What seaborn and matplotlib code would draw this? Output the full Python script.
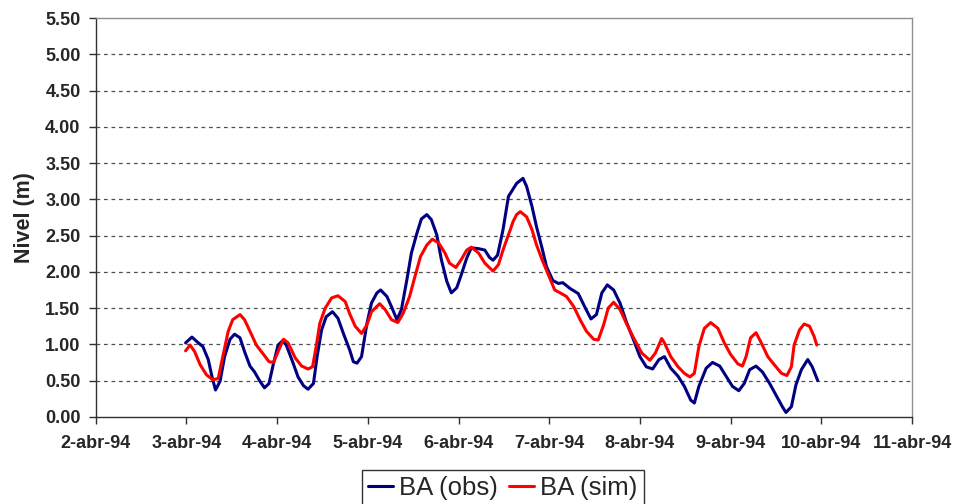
import matplotlib
matplotlib.use("Agg")
import matplotlib.pyplot as plt
import pandas as pd
import seaborn as sns

# Days after 2-abr-94 00:00 and level (m)
obs_days = [0.99, 1.06, 1.13, 1.18, 1.24, 1.28, 1.32, 1.37, 1.42, 1.48, 1.53, 1.59,
            1.64, 1.70, 1.75, 1.81, 1.86, 1.91, 1.96, 2.01, 2.06, 2.10, 2.17, 2.23,
            2.29, 2.34, 2.40, 2.44, 2.49, 2.54, 2.61, 2.67, 2.73, 2.80, 2.84, 2.88,
            2.93, 2.99, 3.04, 3.10, 3.14, 3.21, 3.26, 3.32, 3.37, 3.43, 3.48, 3.54,
            3.59, 3.65, 3.70, 3.76, 3.81, 3.87, 3.92, 3.98, 4.03, 4.09, 4.14, 4.22,
            4.29, 4.34, 4.38, 4.43, 4.49, 4.55, 4.64, 4.71, 4.75, 4.81, 4.86, 4.92,
            4.97, 5.04, 5.10, 5.15, 5.23, 5.32, 5.39, 5.46, 5.52, 5.58, 5.64, 5.71,
            5.78, 5.85, 5.93, 6.00, 6.07, 6.14, 6.21, 6.27, 6.34, 6.42, 6.49, 6.56,
            6.60, 6.65, 6.73, 6.80, 6.88, 6.95, 7.02, 7.09, 7.15, 7.21, 7.28, 7.35,
            7.43, 7.50, 7.57, 7.61, 7.67, 7.72, 7.78, 7.85, 7.90, 7.96]
obs_level = [1.02, 1.10, 1.02, 0.97, 0.79, 0.56, 0.37, 0.49, 0.83, 1.07, 1.14, 1.09,
             0.90, 0.70, 0.62, 0.49, 0.40, 0.46, 0.74, 0.99, 1.05, 0.99, 0.76, 0.55,
             0.43, 0.38, 0.46, 0.83, 1.20, 1.38, 1.45, 1.36, 1.15, 0.92, 0.76, 0.74,
             0.83, 1.29, 1.57, 1.71, 1.75, 1.66, 1.52, 1.34, 1.48, 1.89, 2.26, 2.53,
             2.73, 2.79, 2.72, 2.51, 2.17, 1.87, 1.71, 1.78, 1.96, 2.19, 2.33, 2.32,
             2.30, 2.20, 2.16, 2.23, 2.58, 3.04, 3.22, 3.29, 3.18, 2.90, 2.62, 2.33,
             2.07, 1.88, 1.84, 1.85, 1.77, 1.70, 1.52, 1.35, 1.41, 1.71, 1.82, 1.75,
             1.57, 1.31, 1.06, 0.83, 0.69, 0.66, 0.79, 0.83, 0.67, 0.56, 0.42, 0.23,
             0.19, 0.42, 0.67, 0.75, 0.70, 0.56, 0.42, 0.36, 0.46, 0.65, 0.70, 0.62,
             0.46, 0.30, 0.14, 0.06, 0.14, 0.44, 0.65, 0.79, 0.69, 0.50]

sim_days = [0.99, 1.04, 1.09, 1.15, 1.22, 1.29, 1.35, 1.40, 1.46, 1.51, 1.59, 1.64,
            1.70, 1.77, 1.85, 1.91, 1.96, 2.01, 2.07, 2.12, 2.20, 2.27, 2.34, 2.39,
            2.43, 2.47, 2.53, 2.60, 2.67, 2.75, 2.80, 2.86, 2.93, 2.99, 3.04, 3.13,
            3.19, 3.26, 3.33, 3.39, 3.46, 3.52, 3.58, 3.65, 3.71, 3.78, 3.85, 3.90,
            3.97, 4.03, 4.09, 4.14, 4.22, 4.29, 4.38, 4.44, 4.49, 4.57, 4.60, 4.64,
            4.68, 4.75, 4.81, 4.86, 4.92, 4.99, 5.06, 5.12, 5.19, 5.27, 5.34, 5.41,
            5.49, 5.54, 5.60, 5.65, 5.71, 5.78, 5.85, 5.93, 6.02, 6.11, 6.17, 6.24,
            6.27, 6.34, 6.42, 6.49, 6.55, 6.60, 6.65, 6.71, 6.78, 6.86, 6.93, 7.00,
            7.08, 7.13, 7.17, 7.22, 7.28, 7.33, 7.41, 7.48, 7.56, 7.62, 7.67, 7.70,
            7.76, 7.81, 7.87, 7.92, 7.95]
sim_level = [0.91, 0.99, 0.90, 0.72, 0.58, 0.51, 0.53, 0.83, 1.18, 1.34, 1.41, 1.34,
             1.18, 0.99, 0.86, 0.76, 0.75, 0.90, 1.07, 1.02, 0.81, 0.70, 0.66, 0.69,
             0.97, 1.29, 1.50, 1.64, 1.67, 1.59, 1.42, 1.25, 1.15, 1.27, 1.45, 1.56,
             1.48, 1.34, 1.30, 1.43, 1.66, 1.94, 2.21, 2.37, 2.45, 2.40, 2.26, 2.12,
             2.06, 2.17, 2.30, 2.34, 2.26, 2.12, 2.01, 2.10, 2.30, 2.58, 2.69, 2.79,
             2.83, 2.76, 2.58, 2.37, 2.17, 1.96, 1.75, 1.71, 1.66, 1.52, 1.34, 1.18,
             1.07, 1.06, 1.27, 1.50, 1.58, 1.48, 1.29, 1.09, 0.88, 0.78, 0.88, 1.08,
             1.02, 0.83, 0.69, 0.60, 0.55, 0.60, 0.97, 1.22, 1.30, 1.22, 1.02, 0.86,
             0.73, 0.70, 0.83, 1.09, 1.16, 1.04, 0.83, 0.72, 0.60, 0.57, 0.69, 0.99,
             1.20, 1.28, 1.25, 1.11, 0.99]

series_names = ["BA (obs)", "BA (sim)"]
series_colors = ["#000080", "#FF0000"]

start = pd.Timestamp("1994-04-02")
tick_dates = pd.date_range("1994-04-02", "1994-04-11", freq="D")
tick_labels = [f"{d.day}-abr-94" for d in tick_dates]
y_ticks = [i * 0.5 for i in range(12)]

df = pd.concat([
    pd.DataFrame({"fecha": start + pd.to_timedelta(obs_days, unit="D"),
                  "nivel": obs_level, "serie": series_names[0]}),
    pd.DataFrame({"fecha": start + pd.to_timedelta(sim_days, unit="D"),
                  "nivel": sim_level, "serie": series_names[1]}),
])

sns.set_style("white")
plt.rcParams["font.family"] = ["Liberation Sans", "DejaVu Sans"]

fig = plt.figure(figsize=(9.58, 5.04), dpi=100)
ax = fig.add_axes([0.100, 0.173, 0.852, 0.791])

sns.lineplot(data=df, x="fecha", y="nivel", hue="serie", hue_order=series_names,
             palette=series_colors, linewidth=2.2, ax=ax, legend=False, sort=False)

ax.set_xlim(tick_dates[0], tick_dates[-1])
ax.set_ylim(0, 5.5)
ax.set_xticks(tick_dates)
ax.set_xticklabels(tick_labels, fontsize=13, fontweight="bold")
ax.set_yticks(y_ticks)
ax.set_yticklabels([f"{v:.2f}" for v in y_ticks], fontsize=13, fontweight="bold")
ax.tick_params(axis="both", direction="out", length=5, width=1, color="#303030",
               bottom=True, left=True)
ax.tick_params(axis="x", pad=8)
ax.tick_params(axis="y", pad=6)

for v in y_ticks[1:-1]:
    ax.axhline(v, color="#505050", linestyle=(0, (3, 3)), linewidth=0.9, zorder=0)

ax.set_xlabel("")
ax.set_ylabel("Nivel (m)", fontsize=15.5, fontweight="bold", labelpad=7)

for side in ["top", "right"]:
    ax.spines[side].set_color("#909090")
    ax.spines[side].set_linewidth(1)
for side in ["left", "bottom"]:
    ax.spines[side].set_color("#303030")
    ax.spines[side].set_linewidth(1)

handles = [plt.Line2D([], [], color=c, linewidth=2.2) for c in series_colors]
leg = fig.legend(handles, series_names, loc="upper center", bbox_to_anchor=(0.525, 0.068),
                 borderaxespad=0, ncol=2, fontsize=18.5, frameon=True, fancybox=False,
                 edgecolor="black", handlelength=0.95, handletextpad=0.25,
                 columnspacing=0.45, borderpad=0.25)
leg.get_frame().set_linewidth(1.0)

fig.savefig("out.png", dpi=100)
plt.close(fig)
